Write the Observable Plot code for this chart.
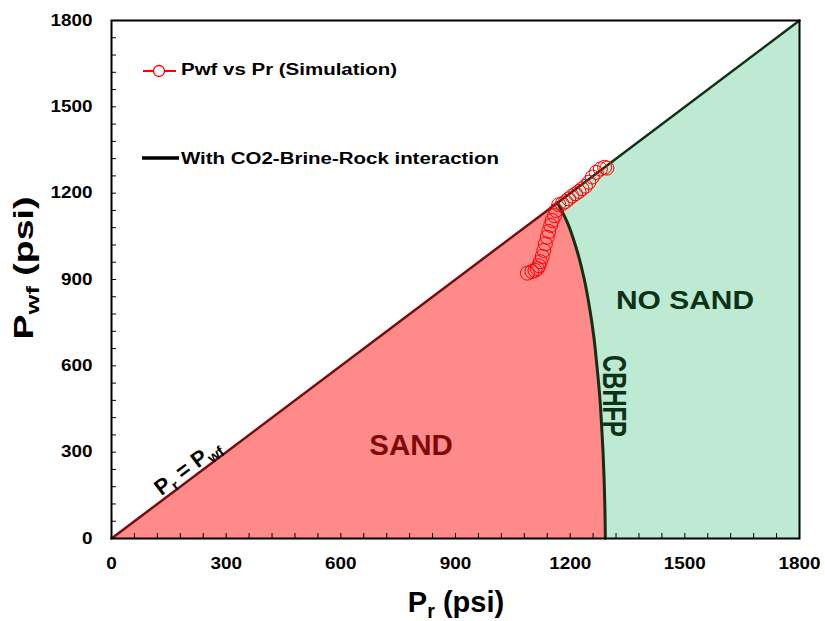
<!DOCTYPE html>
<html><head><meta charset="utf-8">
<script src="https://cdn.jsdelivr.net/npm/d3@7"></script>
<script src="https://cdn.jsdelivr.net/npm/@observablehq/plot@0.6"></script>
<style>
body{margin:0;background:#fff;}
#chart svg{display:block;}
</style></head><body><div id="chart"></div>
<script>
// ---- data ----
const axisTickLabels = [0, 300, 600, 900, 1200, 1500, 1800];
const minorTicks = [0,60,120,180,240,300,360,420,480,540,600,660,720,780,840,900,960,1020,1080,1140,1200,1260,1320,1380,1440,1500,1560,1620,1680,1740,1800];

// CBHFP boundary (critical bottom-hole flowing pressure), sorted by Pwf
const cbhfpPwf = [0, 100, 200, 300, 400, 500, 600, 700, 800, 900, 1000, 1100, 1167];
const cbhfpPr  = [1292, 1291, 1289, 1286, 1282, 1277, 1270, 1262, 1251, 1237, 1218, 1192, 1167];

// Pr = Pwf diagonal, split at its intersection with CBHFP
const diagPr   = [0, 1167, 1167, 1800];
const diagPwf  = [0, 1167, 1167, 1800];
const diagZone = ["SAND", "SAND", "NO SAND", "NO SAND"];

// Simulation: Pwf vs Pr
const simPr  = [1296, 1290, 1279, 1268, 1258, 1249, 1240, 1231, 1223, 1214, 1205, 1196, 1188, 1179, 1170, 1163, 1159, 1153, 1149, 1144, 1140, 1135, 1131, 1127, 1122, 1118, 1114, 1108, 1100, 1088];
const simPwf = [1287, 1290, 1284, 1272, 1256, 1238, 1224, 1215, 1206, 1198, 1190, 1180, 1171, 1163, 1160, 1140, 1122, 1105, 1088, 1067, 1047, 1024, 1001, 980, 962, 948, 938, 932, 928, 922];

// ---- tables ----
const curve = cbhfpPwf.map((p, i) => ({pwf: p, pr: cbhfpPr[i]}));
const greenRegion = curve.concat([{pwf: diagPwf[3], pr: diagPr[3]}]);
const diag = diagPr.map((p, i) => ({pr: p, pwf: diagPwf[i], zone: diagZone[i]}));
const sim = simPr.map((p, i) => ({pr: p, pwf: simPwf[i]}));

const SAND_FILL = "#ff8a8a", NOSAND_FILL = "#bee9d2";
const SAND_DARK = "#7d0a0a", NOSAND_DARK = "#0c3318";

const chart = Plot.plot({
  width: 825, height: 621,
  marginLeft: 111, marginRight: 26, marginTop: 20, marginBottom: 83,
  x: {domain: [0, 1800], label: null},
  y: {domain: [0, 1800], label: null},
  style: {fontFamily: "'Liberation Sans', Arial, sans-serif", fontWeight: "bold", background: "white", color: "black", overflow: "visible"},
  marks: [
    Plot.areaX(greenRegion, {y: "pwf", x1: "pr", x2: () => 1800, fill: NOSAND_FILL, curve: "linear"}),
    Plot.areaX(curve, {y: "pwf", x1: "pwf", x2: "pr", fill: SAND_FILL, curve: "monotone-y"}),
    Plot.line(diag, {x: "pr", y: "pwf", z: "zone", stroke: d => d.zone === "SAND" ? SAND_DARK : NOSAND_DARK, strokeWidth: 2.5}),
    Plot.line(curve, {x: "pr", y: "pwf", stroke: NOSAND_DARK, strokeWidth: 3, curve: "monotone-y"}),
    Plot.dot(sim, {x: "pr", y: "pwf", r: 7, stroke: "#ff0000", fill: "none", strokeWidth: 1}),
    Plot.axisX(minorTicks, {tickSize: 5, dy: -5, tickFormat: () => "", strokeWidth: 1, label: null}),
    Plot.axisY(minorTicks, {tickSize: 5, dx: 5, tickFormat: () => "", strokeWidth: 1, label: null}),
    Plot.axisX(axisTickLabels, {tickSize: 0, tickPadding: 19, fontSize: 16.5, tickFormat: d => String(d), label: null}),
    Plot.axisY(axisTickLabels, {tickSize: 0, tickPadding: 19, fontSize: 16.5, tickFormat: d => String(d), label: null}),
    Plot.frame({stroke: "black", strokeWidth: 2})
  ]
});
document.getElementById("chart").appendChild(chart);

const svg = d3.select(chart);
svg.selectAll('g[aria-label="x-axis tick label"] text, g[aria-label="y-axis tick label"] text').each(function() {
  const t = this.textContent;
  if (t) d3.select(this).attr("textLength", t.length * 10.5).attr("lengthAdjust", "spacingAndGlyphs");
});

function addText(parts, {x, y, rotate = 0, size, fill = "black", anchor = "middle", length = null}) {
  const t = svg.append("text")
    .attr("transform", `translate(${x},${y}) rotate(${rotate})`)
    .attr("text-anchor", anchor)
    .attr("font-family", "'Liberation Sans', Arial, sans-serif")
    .attr("font-weight", "bold")
    .attr("font-size", size)
    .attr("fill", fill);
  if (length) t.attr("textLength", length).attr("lengthAdjust", "spacingAndGlyphs");
  parts.forEach(([s, sub], i) => {
    const ts = t.append("tspan").text(s);
    const prevSub = i > 0 && parts[i - 1][1];
    if (sub) ts.attr("font-size", size * 0.68).attr("dy", size * 0.22);
    else if (prevSub) ts.attr("dy", -size * 0.22);
  });
  return t;
}

// Axis titles
addText([["P"], ["r", true], [" (psi)"]], {x: 456, y: 612, size: 29});
addText([["P"], ["wf", true], [" (psi)"]], {x: 33, y: 268, rotate: -90, size: 28, length: 143});

// Region labels
addText([["SAND"]], {x: 411, y: 455, size: 29.5, fill: SAND_DARK});
addText([["NO SAND"]], {x: 685, y: 309, size: 26.5, fill: NOSAND_DARK, length: 138});
addText([["CBHFP"]], {x: 603, y: 396, rotate: 90, size: 34, fill: NOSAND_DARK, length: 82});
addText([["P"], ["r", true], [" = P"], ["wf", true]], {x: 192, y: 473, rotate: -37, size: 22});

// Legend
const lg = svg.append("g");
lg.append("line").attr("x1", 143).attr("x2", 176).attr("y1", 71).attr("y2", 71).attr("stroke", "#ff0000").attr("stroke-width", 2);
lg.append("circle").attr("cx", 159).attr("cy", 71).attr("r", 5.5).attr("fill", "white").attr("stroke", "#ff0000").attr("stroke-width", 1.3);
addText([["Pwf vs Pr (Simulation)"]], {x: 181, y: 75, size: 17.2, anchor: "start", length: 216});
lg.append("line").attr("x1", 142).attr("x2", 179).attr("y1", 158).attr("y2", 158).attr("stroke", "black").attr("stroke-width", 3.5);
addText([["With CO2-Brine-Rock interaction"]], {x: 181, y: 164, size: 17.2, anchor: "start", length: 318});
</script></body></html>
